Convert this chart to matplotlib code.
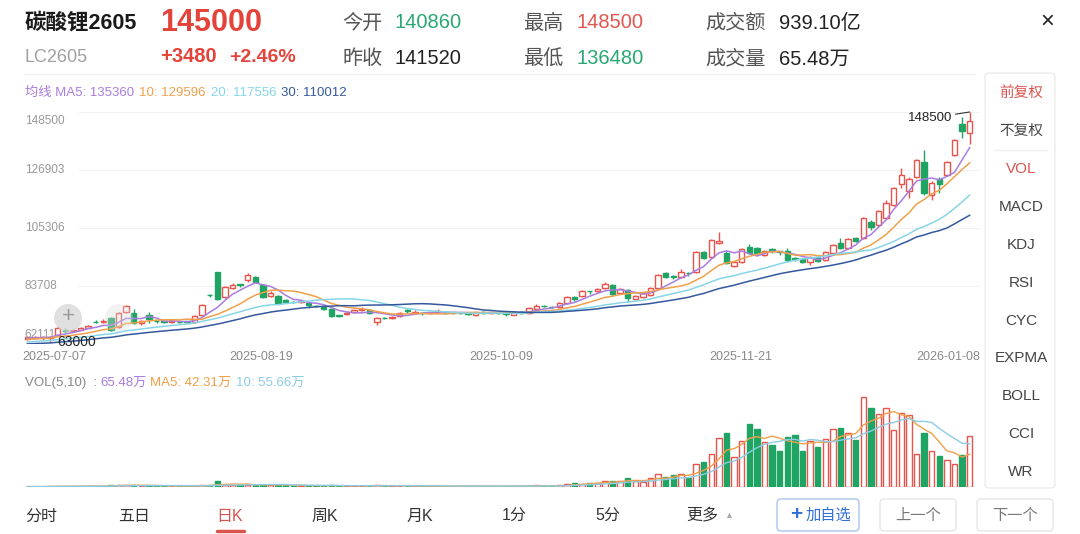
import numpy as np
import pandas as pd
import matplotlib
matplotlib.use("Agg")
import matplotlib.pyplot as plt
from matplotlib.patches import Circle, FancyBboxPatch
from matplotlib.transforms import blended_transform_factory

plt.rcParams['font.family'] = ['Liberation Sans', 'Noto Sans CJK SC', 'DejaVu Sans']

# daily bars of LC2605, 2025-07-07 .. 2026-01-08
opens = [63970, 64340, 64300, 64500, 65455, 67300, 66900, 67500, 68200, 70400,
         70300, 71790, 68430, 74020, 73650, 69900, 72900, 70800, 70500, 70300,
         70400, 70500, 70300, 72900, 80500, 88900, 79600, 82960, 84300, 85940,
         87060, 84075, 80000, 79980, 78500, 77800, 77900, 77400, 76400, 75900,
         75140, 72800, 73200, 74000, 74900, 74770, 70300, 71800, 71900, 72500,
         74800, 73800, 73800, 73600, 74100, 74000, 73700, 73800, 73800, 72900,
         73900, 73700, 73800, 73500, 73000, 74000, 73700, 75200, 76400, 75900,
         75900, 77400, 79600, 79900, 81900, 81800, 82900, 84075, 81100, 82200,
         78900, 79600, 80400, 82960, 88500, 87300, 87100, 88700, 88900, 96400,
         94500, 99700, 96000, 91200, 92600, 98200, 97800, 95300, 97500, 96600,
         96700, 94200, 93800, 92700, 94500, 93400, 96000, 99700, 97800, 101600,
         101600, 107500, 106400, 109000, 113900, 121700, 119100, 124300, 129900, 117600,
         123600, 125000, 132500, 144000, 140860]
highs = [65080, 65100, 65100, 65200, 68800, 67900, 67600, 68600, 69300, 70900,
         71300, 72160, 74000, 76630, 75140, 71200, 74000, 71000, 70800, 70800,
         70700, 70800, 72900, 76900, 80600, 89000, 83700, 84800, 84400, 88500,
         87400, 84400, 81800, 80300, 78900, 78300, 78500, 77600, 76800, 76200,
         75500, 72900, 74300, 75000, 75900, 75100, 72200, 72300, 72700, 74000,
         75300, 74600, 74000, 74100, 75100, 74300, 74200, 74100, 74000, 74200,
         74300, 74200, 74000, 73700, 74500, 74300, 75900, 77000, 76500, 76200,
         77700, 79900, 79800, 82200, 82000, 83000, 85200, 84400, 83000, 82500,
         80300, 81500, 83300, 88200, 89000, 87900, 90000, 88900, 96700, 96800,
         101100, 103700, 96900, 93000, 97800, 99300, 98300, 97100, 97700, 96800,
         97800, 94500, 94000, 94800, 94800, 96700, 99300, 101600, 101600, 101900,
         109400, 108300, 112000, 115700, 120600, 127600, 124300, 131000, 134400, 122800,
         124400, 130300, 138500, 146600, 148500]
lows = [63600, 63900, 63600, 63000, 65000, 66500, 66500, 67200, 67900, 69800,
        70000, 66900, 68000, 73650, 69500, 69200, 69900, 69900, 69800, 69900,
        69900, 69800, 70000, 72500, 79500, 78500, 79200, 82500, 83300, 85200,
        84800, 79200, 79600, 76900, 77400, 77200, 77500, 75500, 75900, 74600,
        72200, 72000, 72800, 73600, 74500, 73300, 69200, 71300, 71600, 72200,
        73600, 73500, 72900, 73300, 73800, 73400, 73300, 73200, 72800, 72600,
        73300, 73200, 73100, 72700, 72800, 73400, 73400, 74900, 75900, 75400,
        75600, 77100, 78200, 79600, 80800, 81500, 82600, 80300, 80700, 77700,
        78600, 79300, 80000, 82600, 86700, 86400, 86800, 87600, 88500, 93700,
        94100, 99400, 91900, 90800, 92300, 95600, 95600, 95000, 96000, 95200,
        92600, 93000, 92300, 91500, 92700, 93000, 95700, 97500, 97500, 100100,
        101200, 104500, 106000, 108600, 113500, 120200, 116500, 123900, 117600, 115700,
        118300, 124600, 132100, 138800, 136480]
closes = [64710, 64710, 64700, 64800, 68060, 67100, 67200, 68100, 68800, 70300,
          70800, 67320, 73650, 76250, 69920, 70800, 71400, 70500, 70400, 70500,
          70200, 70200, 72500, 76600, 80300, 78900, 83300, 84100, 84100, 87800,
          85190, 79600, 81100, 77370, 77900, 77700, 78100, 76600, 76200, 75100,
          72530, 72600, 73800, 74600, 75100, 73650, 71800, 71700, 72300, 73600,
          74300, 74200, 73500, 73800, 74500, 73700, 73900, 73600, 73300, 73900,
          73700, 73900, 73600, 73200, 74200, 73800, 75500, 76200, 76100, 75800,
          77400, 79600, 79000, 81800, 81700, 82600, 84300, 80720, 82500, 79200,
          79900, 81100, 82900, 87800, 87100, 87000, 88900, 88400, 96400, 94100,
          100800, 100500, 92300, 92600, 97500, 96000, 96000, 96700, 97200, 96300,
          93400, 93900, 92700, 94500, 93000, 96400, 98900, 97800, 101200, 100500,
          109000, 105700, 111600, 114600, 120200, 125000, 123500, 130600, 118300, 122100,
          121700, 129900, 138100, 141520, 145000]
# volume in 万手
volumes = [0.5, 0.6, 0.5, 0.7, 1.5, 1.0, 0.8, 1.1, 1.3, 1.4,
           1.2, 2.2, 2.8, 2.6, 2.4, 1.6, 1.8, 1.3, 1.2, 1.1,
           1.0, 1.2, 1.6, 2.5, 2.3, 7.5, 3.2, 2.8, 2.6, 2.9,
           2.7, 3.0, 2.4, 2.6, 2.0, 1.8, 1.6, 1.9, 1.5, 1.6,
           2.2, 1.5, 1.4, 1.5, 1.6, 1.7, 2.6, 1.5, 1.3, 1.4,
           1.6, 1.2, 1.2, 1.0, 1.3, 1.1, 1.0, 1.0, 1.2, 1.1,
           1.0, 0.9, 1.1, 1.0, 1.5, 1.2, 1.6, 2.0, 1.5, 1.3,
           2.2, 3.4, 5.6, 4.3, 5.6, 5.6, 7.7, 7.7, 7.3, 12.1,
           7.7, 6.5, 12.1, 17.2, 12.9, 15.9, 17.2, 12.1, 30.1, 31.9,
           43.1, 63.3, 69.7, 38.7, 59.4, 81.8, 74.9, 58.1, 53.8, 46.1,
           64.6, 66.7, 46.5, 59.4, 51.7, 62.4, 75.3, 76.2, 70.2, 60.3,
           116.2, 102.0, 93.8, 101.2, 73.2, 94.7, 92.6, 42.2, 69.7, 46.5,
           39.6, 34.4, 30.1, 41.8, 65.48]
# sessions before the window, only feed the moving averages
prior_closes = [61300, 61100, 60900, 60700, 60600, 60800, 60500, 60300, 60400, 60700,
                61000, 61200, 61400, 61100, 61500, 61900, 62400, 62200, 62700, 63100,
                62900, 63300, 63600, 63400, 63900, 64200, 64000, 64400, 64100]

axis_range = [62111, 148500]
date_labels = ["2025-07-07", "2025-08-19", "2025-10-09", "2025-11-21", "2026-01-08"]
ma_windows = [5, 10, 20, 30]
ma_now = [135360, 129596, 117556, 110012]
vol_now = ["65.48万", "42.31万", "55.66万"]

RED = '#e9534b'
GREEN = '#1fa463'
MA_COLORS = ['#a97de0', '#f0a04a', '#86d6e8', '#34589e']
VMA_COLORS = ['#f0a04a', '#8ccbe6']

W, H = 1080, 534
fig = plt.figure(figsize=(W / 100, H / 100), dpi=100)


def frame(l, t, r, b):
    return [l / W, 1 - b / H, (r - l) / W, (b - t) / H]


ax = fig.add_axes(frame(22, 112, 980, 344))
axv = fig.add_axes(frame(22, 395, 980, 487))

o, h, l, c = (np.array(v, dtype=float) for v in (opens, highs, lows, closes))
vol = np.array(volumes)
n = len(c)
x = np.arange(n)
up = c >= o
edge = np.where(up, RED, GREEN)
face = np.where(up, 'white', GREEN)

# candles
ax.vlines(x, l, h, colors=edge, lw=1, zorder=2)
ax.bar(x, np.maximum(np.abs(c - o), 150), bottom=np.minimum(o, c), width=0.7,
       color=face, edgecolor=edge, linewidth=1, zorder=3)

allc = pd.Series(np.concatenate([prior_closes, c]))
for w, col in zip(ma_windows, MA_COLORS):
    ax.plot(x, allc.rolling(w).mean().to_numpy()[-n:], color=col, lw=1.1, zorder=4)

ax.set_xlim(-0.7, n + 0.36)
ax.set_ylim(*axis_range)
levels = np.linspace(axis_range[0], axis_range[1], 5)
trans = blended_transform_factory(ax.transAxes, ax.transData)
for k, v in enumerate(levels):
    ax.axhline(v, xmin=0.06, color='#f1f1f1', lw=0.8, zorder=0)
    dy = 9 if k == 0 else (-9 if k == 4 else 0)
    ax.annotate(f"{v:.0f}", xy=(0.003, v), xycoords=trans, xytext=(0, dy),
                textcoords='offset pixels', ha='left', va='center',
                fontsize=8.5, color='#999999')

for f, d, ha in zip([0, 0.25, 0.5, 0.75, 1], date_labels,
                    ['left', 'center', 'center', 'center', 'right']):
    ax.text(f, -0.058, d, transform=ax.transAxes, ha=ha, va='center',
            fontsize=9, color='#8a8a8a')

imax, imin = int(np.argmax(h)), int(np.argmin(l))
ax.annotate(f"{h[imax]:.0f}", xy=(imax, h[imax]), xytext=(-17, -6),
            textcoords='offset pixels', ha='right', va='center', fontsize=9.5,
            color='#222222', annotation_clip=False, zorder=6,
            arrowprops=dict(arrowstyle='-', color='#333333', lw=0.8, shrinkA=0, shrinkB=0))
ax.annotate(f"{l[imin]:.0f}", xy=(imin, l[imin]), xytext=(7, 0),
            textcoords='offset pixels', ha='left', va='center', fontsize=10,
            color='#222222', annotation_clip=False, zorder=6)

# volume
axv.bar(x, vol, width=0.7, color=face, edgecolor=edge, linewidth=1)
vs = pd.Series(vol)
axv.plot(x, vs.rolling(5, min_periods=1).mean(), color=VMA_COLORS[0], lw=1)
axv.plot(x, vs.rolling(10, min_periods=1).mean(), color=VMA_COLORS[1], lw=1)
axv.set_xlim(-0.7, n + 0.36)
axv.set_ylim(0, vol.max() * 1.02)

for a in (ax, axv):
    a.set_xticks([])
    a.set_yticks([])
    for s in a.spines.values():
        s.set_visible(False)

# app chrome, in pixel coordinates
ui = fig.add_axes([0, 0, 1, 1])
ui.set_xlim(0, W)
ui.set_ylim(H, 0)
ui.axis('off')
renderer = fig.canvas.get_renderer()


def label(px, py, s, size, color, ha='left', weight='normal'):
    return ui.text(px, py, s, fontsize=size, color=color, ha=ha, va='center', fontweight=weight)


def chain(px, py, parts, size):
    # place coloured pieces one after another on a line
    for s, col, gap in parts:
        t = label(px, py, s, size, col)
        px += t.get_window_extent(renderer=renderer).width + gap


label(25, 23, '碳酸锂2605', 15.5, '#1a1a1a', weight='bold')
label(160, 23, '145000', 22, '#e4433a', weight='bold')
label(25, 58, 'LC2605', 13, '#a0a0a0')
label(160, 57, '+3480', 14.5, '#e4433a', weight='bold')
label(229, 57, '+2.46%', 14, '#e4433a', weight='bold')

quote = [('今开', '140860', '#2aa873', 342, 395, 23),
         ('昨收', '141520', '#222222', 342, 395, 59),
         ('最高', '148500', '#e0574f', 523, 577, 23),
         ('最低', '136480', '#2aa873', 523, 577, 59),
         ('成交额', '939.10亿', '#222222', 705, 779, 23),
         ('成交量', '65.48万', '#222222', 705, 779, 59)]
for name, val, col, xn, xv, yy in quote:
    label(xn, yy, name, 14.5, '#555555')
    label(xv, yy, val, 14.5, col)
label(1047, 22, '×', 17, '#222222', ha='center')
ui.plot([25, 975], [74, 74], color='#f0f0f0', lw=1)

# moving average legends
ma_parts = [(f"均线 MA{w}: {v}" if i == 0 else f"{w}: {v}", col, 5)
            for i, (w, v, col) in enumerate(zip(ma_windows, ma_now, MA_COLORS))]
chain(25, 93, ma_parts, 9.5)
chain(25, 383, [('VOL(5,10)  :', '#888888', 3),
                (vol_now[0], MA_COLORS[0], 4),
                (f"MA5: {vol_now[1]}", VMA_COLORS[0], 4),
                (f"10: {vol_now[2]}", VMA_COLORS[1], 0)], 9.5)

# crosshair buttons
ui.add_patch(Circle((119, 318), 14, color='#dcdcdc', alpha=0.35, lw=0))
ui.add_patch(Circle((68, 318), 14, color='#d6d6d6', alpha=0.75, lw=0))
label(68, 317, '+', 16, '#9a9a9a', ha='center')

# indicator panel
ui.add_patch(FancyBboxPatch((985, 73), 70, 415, boxstyle='round,pad=0,rounding_size=4',
                            fc='white', ec='#ececec', lw=1))
panel = ['前复权', '不复权', 'VOL', 'MACD', 'KDJ', 'RSI', 'CYC', 'EXPMA', 'BOLL', 'CCI', 'WR']
panel_y = [93, 131, 169, 207, 245, 283, 321, 358, 396, 434, 472]
for s, yy in zip(panel, panel_y):
    col = '#d9534f' if s in ('前复权', 'VOL') else '#444444'
    label(1021, yy, s, 10.5 if s in ('前复权', '不复权') else 11, col, ha='center')
ui.plot([995, 1047], [150, 150], color='#eeeeee', lw=1)

# period tabs
tabs = ['分时', '五日', '日K', '周K', '月K', '1分', '5分', '更多']
tab_x = [41, 134, 230, 325, 420, 514, 608, 702]
for s, xx in zip(tabs, tab_x):
    label(xx, 516, s, 11.5, '#d9534f' if s == '日K' else '#333333', ha='center')
label(729, 516, '▲', 6.5, '#aaaaaa', ha='center')
ui.plot([217, 244], [531, 531], color='#d9534f', lw=2.5, solid_capstyle='round')

ui.add_patch(FancyBboxPatch((777, 499), 82, 32, boxstyle='round,pad=0,rounding_size=4',
                            fc='white', ec='#a9c6ef', lw=1))
label(796, 515, '+', 15, '#2e6fd8', ha='center', weight='bold')
label(806, 516, '加自选', 11, '#2e6fd8')
for bx, s in [(880, '上一个'), (977, '下一个')]:
    ui.add_patch(FancyBboxPatch((bx, 499), 76, 32, boxstyle='round,pad=0,rounding_size=4',
                                fc='white', ec='#e6e6e6', lw=1))
    label(bx + 38, 516, s, 11, '#777777', ha='center')

fig.savefig('out.png', dpi=100, facecolor='white')
